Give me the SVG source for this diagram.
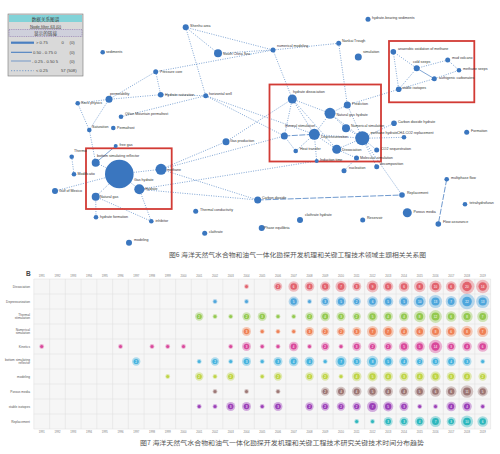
<svg xmlns="http://www.w3.org/2000/svg" xmlns:xlink="http://www.w3.org/1999/xlink" width="500" height="454" viewBox="0 0 500 454">
<style>
text{font-family:"Liberation Sans",Arial,sans-serif}
.lb{font-size:3.6px;fill:#333}
.nd{fill:#3a76bf}
.e{stroke:#4a7fc1;stroke-width:.7;stroke-dasharray:1 1.4;fill:none}
.es{stroke:#4a7fc1;stroke-width:.7;fill:none}
.ed{stroke:#4a7fc1;stroke-width:.8;stroke-dasharray:6 1.5;fill:none}
.box{fill:none;stroke:#d23b35;stroke-width:1.8}
.cap{font-family:"Noto Sans CJK SC",sans-serif;font-size:6px;fill:#555}
.lg{font-size:4.2px;fill:#444}
.rl{font-size:3.2px;fill:#555;text-anchor:end}
.yr{font-size:2.7px;fill:#777;text-anchor:middle}
.n{font-size:3px;fill:#fff;text-anchor:middle}
.g{stroke:#dedede;stroke-width:.5}
.k0{color:#e2636e}.k1{color:#4fa6dc}.k2{color:#94c94f}.k3{color:#ef8156}.k4{color:#d9489b}
.k5{color:#47b3de}.k6{color:#bfd445}.k7{color:#9c7674}.k8{color:#9b3fb8}.k9{color:#2db7bd}
</style>
<defs>
<g id="s1"><circle r="2.4" fill="currentColor" fill-opacity=".4"/><circle r="1.5" fill="currentColor"/></g>
<g id="s2"><circle r="4.2" fill="currentColor" fill-opacity=".4"/><circle r="2.6" fill="currentColor"/></g>
<g id="s3"><circle r="4.5" fill="currentColor" fill-opacity=".4"/><circle r="2.8" fill="currentColor"/></g>
<g id="s4"><circle r="4.8" fill="currentColor" fill-opacity=".4"/><circle r="3" fill="currentColor"/></g>
<g id="s5"><circle r="5.1" fill="currentColor" fill-opacity=".4"/><circle r="3.2" fill="currentColor"/></g>
<g id="s6"><circle r="5.3" fill="currentColor" fill-opacity=".4"/><circle r="3.3" fill="currentColor"/></g>
<g id="s7"><circle r="5.5" fill="currentColor" fill-opacity=".4"/><circle r="3.4" fill="currentColor"/></g>
<g id="s8"><circle r="5.7" fill="currentColor" fill-opacity=".4"/><circle r="3.5" fill="currentColor"/></g>
<g id="s9"><circle r="5.9" fill="currentColor" fill-opacity=".4"/><circle r="3.7" fill="currentColor"/></g>
<g id="s10"><circle r="6.1" fill="currentColor" fill-opacity=".4"/><circle r="3.8" fill="currentColor"/></g>
<g id="s11"><circle r="6.3" fill="currentColor" fill-opacity=".4"/><circle r="3.9" fill="currentColor"/></g>
<g id="s12"><circle r="6.4" fill="currentColor" fill-opacity=".4"/><circle r="4" fill="currentColor"/></g>
<g id="s13"><circle r="6.6" fill="currentColor" fill-opacity=".4"/><circle r="4.1" fill="currentColor"/></g>
<g id="s14"><circle r="6.7" fill="currentColor" fill-opacity=".4"/><circle r="4.2" fill="currentColor"/></g>
<g id="s20"><circle r="7.5" fill="currentColor" fill-opacity=".4"/><circle r="4.7" fill="currentColor"/></g>
<g id="s22"><circle r="7.8" fill="currentColor" fill-opacity=".4"/><circle r="4.8" fill="currentColor"/></g>
</defs>
<rect width="500" height="454" fill="#fff"/>

<!-- Legend -->
<g id="legend">
<rect x="8" y="14" width="75" height="62" fill="#d9d9d9" stroke="#777" stroke-width=".6"/>
<rect x="9" y="15" width="73" height="7" fill="#82d3d8"/>
<text x="45.5" y="20.8" class="lg" text-anchor="middle" style="font-family:'Noto Sans CJK SC',sans-serif;font-size:4.6px">数据关系图谱</text>
<text x="45.5" y="27.5" class="lg" text-anchor="middle" text-decoration="underline">Node filter 63 (0)</text>
<rect x="9" y="29.5" width="73" height="7" fill="#cfd0dc" stroke="#7b5fa3" stroke-width=".5" stroke-dasharray="1 .8"/>
<text x="45.5" y="34.9" class="lg" text-anchor="middle" style="font-family:'Noto Sans CJK SC',sans-serif;font-size:4.6px">显示的链接</text>
<line x1="11" y1="42.7" x2="34" y2="42.7" stroke="#4a7fc1" stroke-width="2.2"/>
<text x="36" y="44.2" class="lg">&gt; 0.75</text><text x="61.5" y="44.2" class="lg">0</text><text x="69.5" y="44.2" class="lg">(0)</text>
<line x1="11" y1="52.3" x2="32" y2="52.3" stroke="#4a7fc1" stroke-width="1.1"/>
<text x="33" y="53.8" class="lg">0.50 - 0.75 0</text><text x="69.5" y="53.8" class="lg">(0)</text>
<line x1="11" y1="61" x2="31" y2="61" stroke="#4a7fc1" stroke-width=".7"/>
<text x="32" y="62.5" class="lg">- 0.25 - 0.50 5</text><text x="69.5" y="62.5" class="lg">(0)</text>
<line x1="11" y1="70.7" x2="34" y2="70.7" stroke="#4a7fc1" stroke-width=".7" stroke-dasharray="1.2 1.6"/>
<text x="36" y="72.2" class="lg">&lt; 0.25</text><text x="61" y="72.2" class="lg">57 (508)</text>
</g>

<!-- Connectors -->
<g id="connectors">
<line class="e" x1="185.7" y1="27.3" x2="218" y2="53.3"/>
<line class="e" x1="185.7" y1="27.3" x2="273" y2="50"/>
<line class="e" x1="185.7" y1="27.3" x2="205.7" y2="95.7"/>
<line class="e" x1="218" y1="53.3" x2="273" y2="50"/>
<line class="e" x1="273" y1="50" x2="155.7" y2="71.7"/>
<line class="e" x1="273" y1="50" x2="338.7" y2="43.3"/>
<line class="e" x1="273" y1="50" x2="292.3" y2="99"/>
<line class="e" x1="155.7" y1="71.7" x2="109" y2="99.3"/>
<line class="e" x1="155.7" y1="71.7" x2="160.7" y2="94.7"/>
<line class="e" x1="109" y1="99.3" x2="160.7" y2="94.7"/>
<line class="e" x1="109" y1="99.3" x2="77.7" y2="103.3"/>
<line class="e" x1="109" y1="99.3" x2="89.3" y2="130"/>
<line class="e" x1="77.7" y1="103.3" x2="89.3" y2="130"/>
<line class="e" x1="89.3" y1="130" x2="95.7" y2="162.7"/>
<line class="e" x1="121" y1="116.7" x2="205.7" y2="95.7"/>
<line class="e" x1="160.7" y1="94.7" x2="205.7" y2="95.7"/>
<line class="e" x1="205.7" y1="95.7" x2="284.3" y2="136"/>
<line class="e" x1="205.7" y1="95.7" x2="314.3" y2="134.3"/>
<line class="es" x1="115.7" y1="146" x2="95.7" y2="162.7"/>
<line class="e" x1="71.7" y1="156.7" x2="74" y2="174.3"/>
<line class="e" x1="55" y1="191" x2="119.3" y2="174"/>
<line class="e" x1="119.3" y1="174" x2="95.7" y2="162.7"/>
<line class="e" x1="119.3" y1="174" x2="161" y2="169.3"/>
<line class="e" x1="119.3" y1="174" x2="139.3" y2="189.3"/>
<line class="e" x1="119.3" y1="174" x2="95.7" y2="196.7"/>
<line class="e" x1="95.7" y1="196.7" x2="96" y2="217.3"/>
<line class="e" x1="95.7" y1="196.7" x2="151.3" y2="221.3"/>
<line class="e" x1="139.3" y1="189.3" x2="151.3" y2="221.3"/>
<line class="e" x1="161" y1="169.3" x2="226" y2="141.7"/>
<line class="e" x1="226" y1="141.7" x2="292.3" y2="99"/>
<line class="e" x1="161" y1="169.3" x2="284.3" y2="136"/>
<line class="e" x1="139.3" y1="189.3" x2="316.7" y2="161"/>
<line class="e" x1="161" y1="169.3" x2="257.7" y2="200"/>
<line class="e" x1="139.3" y1="189.3" x2="257.7" y2="200"/>
<line class="ed" x1="257.7" y1="200" x2="402" y2="195"/>
<line class="e" x1="292.3" y1="99" x2="330" y2="113.3"/>
<line class="e" x1="292.3" y1="99" x2="284.3" y2="136"/>
<line class="e" x1="292.3" y1="99" x2="314.3" y2="134.3"/>
<line class="e" x1="292.3" y1="99" x2="336.7" y2="149.3"/>
<line class="e" x1="330" y1="113.3" x2="347.3" y2="105"/>
<line class="e" x1="330" y1="113.3" x2="314.3" y2="134.3"/>
<line class="e" x1="330" y1="113.3" x2="362.3" y2="138.3"/>
<line class="e" x1="330" y1="113.3" x2="346" y2="128.3"/>
<line class="ed" x1="284.3" y1="136" x2="314.3" y2="134.3"/>
<line class="e" x1="314.3" y1="134.3" x2="336.7" y2="149.3"/>
<line class="e" x1="314.3" y1="134.3" x2="362.3" y2="138.3"/>
<line class="e" x1="314.3" y1="134.3" x2="295.7" y2="151"/>
<line class="e" x1="284.3" y1="136" x2="295.7" y2="151"/>
<line class="e" x1="314.3" y1="134.3" x2="316.7" y2="161"/>
<line class="e" x1="336.7" y1="149.3" x2="362.3" y2="138.3"/>
<line class="e" x1="336.7" y1="149.3" x2="356.5" y2="158"/>
<line class="e" x1="362.3" y1="138.3" x2="376.7" y2="150"/>
<line class="e" x1="362.3" y1="138.3" x2="394" y2="123.3"/>
<line class="e" x1="362.3" y1="138.3" x2="404" y2="137.3"/>
<line class="e" x1="362.3" y1="138.3" x2="402" y2="195"/>
<line class="e" x1="362.3" y1="138.3" x2="376.7" y2="166.7"/>
<line class="e" x1="356.5" y1="158" x2="344" y2="170.7"/>
<line class="e" x1="346" y1="128.3" x2="362.3" y2="138.3"/>
<line class="e" x1="347.3" y1="105" x2="362.3" y2="138.3"/>
<line class="e" x1="338.7" y1="43.3" x2="347.3" y2="105"/>
<line class="e" x1="347.3" y1="105" x2="398.7" y2="89.3"/>
<line class="e" x1="393.3" y1="51.7" x2="416.7" y2="68.3"/>
<line class="e" x1="393.3" y1="51.7" x2="398.7" y2="89.3"/>
<line class="e" x1="416.7" y1="68.3" x2="447.7" y2="60"/>
<line class="es" x1="416.7" y1="68.3" x2="434.3" y2="78.7"/>
<line class="e" x1="416.7" y1="68.3" x2="398.7" y2="89.3"/>
<line class="e" x1="434.3" y1="78.7" x2="459" y2="70.3"/>
<line class="e" x1="434.3" y1="78.7" x2="398.7" y2="89.3"/>
<line class="e" x1="447.7" y1="60" x2="459" y2="70.3"/>
<line class="ed" x1="446.7" y1="179.3" x2="438.3" y2="224"/>
</g>

<!-- Highlight boxes -->
<rect class="box" x="86" y="148.3" width="85.7" height="60.7"/>
<rect class="box" x="269.5" y="84.5" width="111.5" height="77"/>
<rect class="box" x="389" y="41" width="85.3" height="61.3"/>

<!-- Nodes -->
<g id="n-sediments"><circle class="nd" cx="102.7" cy="52.3" r="2.3"/><text class="lb" x="106" y="53.3">sediments</text></g>
<g id="n-shenhu"><circle class="nd" cx="185.7" cy="27.3" r="3"/><text class="lb" x="190" y="26.5">Shenhu area</text></g>
<g id="n-scs"><circle class="nd" cx="218" cy="53.3" r="4"/><text class="lb" x="223" y="54.5">South China Sea</text></g>
<g id="n-nummod"><circle class="nd" cx="273" cy="50" r="2.5"/><text class="lb" x="277" y="46.5">numerical modeling</text></g>
<g id="n-pcore"><circle class="nd" cx="155.7" cy="71.7" r="2.5"/><text class="lb" x="160" y="72.7">Pressure core</text></g>
<g id="n-hsat"><circle class="nd" cx="160.7" cy="94.7" r="2.8"/><text class="lb" x="165" y="95.7">Hydrate saturation</text></g>
<g id="n-hwell"><circle class="nd" cx="205.7" cy="95.7" r="2.5"/><text class="lb" x="209" y="94.5">horizontal well</text></g>
<g id="n-perm"><circle class="nd" cx="109" cy="99.3" r="3.5"/><text class="lb" x="110" y="95">permeability</text></g>
<g id="n-rock"><circle class="nd" cx="77.7" cy="103.3" r="2.3"/><text class="lb" x="81" y="104.3">Rock physics</text></g>
<g id="n-qilian"><circle class="nd" cx="121" cy="116.7" r="2.3"/><text class="lb" x="125" y="114.5">Qilian Mountain permafrost</text></g>
<g id="n-sat"><circle class="nd" cx="89.3" cy="130" r="2.3"/><text class="lb" x="92" y="127.5">Saturation</text></g>
<g id="n-permafrost"><circle class="nd" cx="113.3" cy="128" r="2.3"/><text class="lb" x="117" y="129">Permafrost</text></g>
<g id="n-freegas"><circle class="nd" cx="115.7" cy="146" r="2"/><text class="lb" x="119.5" y="145.5">free gas</text></g>
<g id="n-thermo"><circle class="nd" cx="71.7" cy="156.7" r="2.3"/><text class="lb" x="74" y="152">Thermo</text></g>
<g id="n-modif"><circle class="nd" cx="74" cy="174.3" r="2.3"/><text class="lb" x="77.5" y="175.3">Modificatio</text></g>
<g id="n-gulf"><circle class="nd" cx="55" cy="191" r="3"/><text class="lb" x="59" y="192">Gulf of Mexico</text></g>
<g id="n-bsr"><circle class="nd" cx="95.7" cy="162.7" r="4"/><text class="lb" x="97" y="157">bottom simulating reflector</text></g>
<g id="n-gashydrate"><circle class="nd" cx="119.3" cy="174" r="14.3"/><text class="lb" x="134" y="180.5">Gas hydrate</text></g>
<g id="n-methane"><circle class="nd" cx="161" cy="169.3" r="5.5"/><text class="lb" x="167" y="170.5">methane</text></g>
<g id="n-hydrate"><circle class="nd" cx="139.3" cy="189.3" r="5"/><text class="lb" x="145" y="189.5">Hydrate</text></g>
<g id="n-natgas"><circle class="nd" cx="95.7" cy="196.7" r="4"/><text class="lb" x="100" y="198">Natural gas</text></g>
<g id="n-hform"><circle class="nd" cx="96" cy="217.3" r="2.3"/><text class="lb" x="100" y="218.3">hydrate formation</text></g>
<g id="n-inhib"><circle class="nd" cx="151.3" cy="221.3" r="2.3"/><text class="lb" x="155.5" y="221.8">inhibitor</text></g>
<g id="n-modeling"><circle class="nd" cx="129" cy="242.7" r="3"/><text class="lb" x="134" y="240.5">modeling</text></g>
<g id="n-gasprod"><circle class="nd" cx="226" cy="141.7" r="3.5"/><text class="lb" x="230" y="141.5">Gas production</text></g>
<g id="n-co2"><circle class="nd" cx="257.7" cy="200" r="3.5"/><text class="lb" x="262" y="198.5">Carbon dioxide</text></g>
<g id="n-thcond"><circle class="nd" cx="195.7" cy="211.3" r="2.5"/><text class="lb" x="200" y="210.5">Thermal conductivity</text></g>
<g id="n-clath"><circle class="nd" cx="204.7" cy="233.3" r="2.5"/><text class="lb" x="209" y="233">clathrate</text></g>
<g id="n-phase"><circle class="nd" cx="261.7" cy="228" r="3"/><text class="lb" x="264" y="228.5">Phase equilibria</text></g>
<g id="n-clathhyd"><circle class="nd" cx="300" cy="220" r="3"/><text class="lb" x="305" y="215.5">clathrate hydrate</text></g>
<g id="n-thstim"><circle class="nd" cx="284.3" cy="136" r="3.5"/><text class="lb" x="285" y="126.5">thermal stimulation</text></g>
<g id="n-depress"><circle class="nd" cx="314.3" cy="134.3" r="5.5"/><text class="lb" x="321" y="137.5">Depressurization</text></g>
<g id="n-hdiss"><circle class="nd" cx="292.3" cy="99" r="4.5"/><text class="lb" x="293" y="93">hydrate dissociation</text></g>
<g id="n-pred"><circle class="nd" cx="347.3" cy="105" r="3.5"/><text class="lb" x="352" y="104.5">Prediction</text></g>
<g id="n-ngh"><circle class="nd" cx="330" cy="113.3" r="5.5"/><text class="lb" x="336.5" y="115.5">Natural gas hydrate</text></g>
<g id="n-numsim"><circle class="nd" cx="346" cy="128.3" r="4"/><text class="lb" x="351" y="126.5">Numerical simulation</text></g>
<g id="n-mh"><circle class="nd" cx="362.3" cy="138.3" r="7"/><text class="lb" x="370.5" y="134">methane hydrate</text></g>
<g id="n-dissoc"><circle class="nd" cx="336.7" cy="149.3" r="4.5"/><text class="lb" x="342" y="151">Dissociation</text></g>
<g id="n-heat"><circle class="nd" cx="295.7" cy="151" r="2.3"/><text class="lb" x="300" y="150">Heat transfer</text></g>
<g id="n-induct"><circle class="nd" cx="316.7" cy="161" r="2"/><text class="lb" x="320" y="161">Induction time</text></g>
<g id="n-molsim"><circle class="nd" cx="356.5" cy="158" r="2.5"/><text class="lb" x="360" y="159">Molecular simulation</text></g>
<g id="n-nucl"><circle class="nd" cx="344" cy="170.7" r="2.5"/><text class="lb" x="349" y="168.5">nucleation</text></g>
<g id="n-decomp"><circle class="nd" cx="376.7" cy="166.7" r="2.5"/><text class="lb" x="380" y="165">decomposition</text></g>
<g id="n-co2seq"><circle class="nd" cx="376.7" cy="150" r="2.5"/><text class="lb" x="381" y="149.5">CO2 sequestration</text></g>
<g id="n-ch4co2"><circle class="nd" cx="404" cy="137.3" r="2.3"/><text class="lb" x="397" y="133.5">CH4-CO2 replacement</text></g>
<g id="n-cdh"><circle class="nd" cx="394" cy="123.3" r="2.8"/><text class="lb" x="398" y="123">Carbon dioxide hydrate</text></g>
<g id="n-formation"><circle class="nd" cx="466.7" cy="132.3" r="2.5"/><text class="lb" x="471" y="131.5">Formation</text></g>
<g id="n-multi"><circle class="nd" cx="446.7" cy="179.3" r="2.3"/><text class="lb" x="451" y="178.5">multiphase flow</text></g>
<g id="n-thf"><circle class="nd" cx="465" cy="204.3" r="2.3"/><text class="lb" x="469.5" y="203.5">tetrahydrofuran</text></g>
<g id="n-repl"><circle class="nd" cx="402" cy="195" r="2.8"/><text class="lb" x="407" y="194">Replacement</text></g>
<g id="n-porous"><circle class="nd" cx="407.3" cy="212.7" r="4.5"/><text class="lb" x="413.5" y="212.5">Porous media</text></g>
<g id="n-reservoir"><circle class="nd" cx="362.7" cy="220" r="2.5"/><text class="lb" x="367" y="219">Reservoir</text></g>
<g id="n-flowass"><circle class="nd" cx="438.3" cy="224" r="2.8"/><text class="lb" x="443" y="222.5">Flow assurance</text></g>
<g id="n-hbs"><circle class="nd" cx="368" cy="19.3" r="2.5"/><text class="lb" x="372" y="18.5">hydrate-bearing sediments</text></g>
<g id="n-nankai"><circle class="nd" cx="338.7" cy="43.3" r="2.5"/><text class="lb" x="342" y="42.3">Nankai Trough</text></g>
<g id="n-simulation"><circle class="nd" cx="358.3" cy="57" r="3.5"/><text class="lb" x="363" y="52.5">simulation</text></g>
<g id="n-aom"><circle class="nd" cx="393.3" cy="51.7" r="2.8"/><text class="lb" x="398" y="50.3">anaerobic oxidation of methane</text></g>
<g id="n-cold"><circle class="nd" cx="416.7" cy="68.3" r="3"/><text class="lb" x="413" y="63">cold seeps</text></g>
<g id="n-mud"><circle class="nd" cx="447.7" cy="60" r="2.5"/><text class="lb" x="452" y="59">mud volcano</text></g>
<g id="n-mseeps"><circle class="nd" cx="459" cy="70.3" r="2.3"/><text class="lb" x="463" y="70.3">methane seeps</text></g>
<g id="n-authig"><circle class="nd" cx="434.3" cy="78.7" r="2.5"/><text class="lb" x="439" y="79.3">authigenic carbonates</text></g>
<g id="n-stable"><circle class="nd" cx="398.7" cy="89.3" r="2.8"/><text class="lb" x="402" y="88.5">stable isotopes</text></g>

<text class="cap" x="169" y="256.5" textLength="257" lengthAdjust="spacingAndGlyphs">图6  海洋天然气水合物和油气一体化勘探开发机理和关键工程技术领域主题相关关系图</text>

<!-- Chart B -->
<g id="chart">
<rect x="33.8" y="279" width="456.8" height="150" fill="#f6f6f6"/>
<g class="g">
<line x1="33.8" y1="279" x2="33.8" y2="429"/><line x1="49.6" y1="279" x2="49.6" y2="429"/><line x1="65.3" y1="279" x2="65.3" y2="429"/><line x1="81.1" y1="279" x2="81.1" y2="429"/><line x1="96.8" y1="279" x2="96.8" y2="429"/><line x1="112.6" y1="279" x2="112.6" y2="429"/><line x1="128.3" y1="279" x2="128.3" y2="429"/><line x1="144.1" y1="279" x2="144.1" y2="429"/><line x1="159.8" y1="279" x2="159.8" y2="429"/><line x1="175.6" y1="279" x2="175.6" y2="429"/><line x1="191.3" y1="279" x2="191.3" y2="429"/><line x1="207.1" y1="279" x2="207.1" y2="429"/><line x1="222.8" y1="279" x2="222.8" y2="429"/><line x1="238.6" y1="279" x2="238.6" y2="429"/><line x1="254.3" y1="279" x2="254.3" y2="429"/><line x1="270.1" y1="279" x2="270.1" y2="429"/><line x1="285.8" y1="279" x2="285.8" y2="429"/><line x1="301.6" y1="279" x2="301.6" y2="429"/><line x1="317.3" y1="279" x2="317.3" y2="429"/><line x1="333.1" y1="279" x2="333.1" y2="429"/><line x1="348.8" y1="279" x2="348.8" y2="429"/><line x1="364.6" y1="279" x2="364.6" y2="429"/><line x1="380.3" y1="279" x2="380.3" y2="429"/><line x1="396.1" y1="279" x2="396.1" y2="429"/><line x1="411.8" y1="279" x2="411.8" y2="429"/><line x1="427.6" y1="279" x2="427.6" y2="429"/><line x1="443.3" y1="279" x2="443.3" y2="429"/><line x1="459.1" y1="279" x2="459.1" y2="429"/><line x1="474.8" y1="279" x2="474.8" y2="429"/><line x1="490.6" y1="279" x2="490.6" y2="429"/>
<line x1="33.8" y1="279" x2="490.6" y2="279"/><line x1="33.8" y1="294" x2="490.6" y2="294"/><line x1="33.8" y1="309" x2="490.6" y2="309"/><line x1="33.8" y1="324" x2="490.6" y2="324"/><line x1="33.8" y1="339" x2="490.6" y2="339"/><line x1="33.8" y1="354" x2="490.6" y2="354"/><line x1="33.8" y1="369" x2="490.6" y2="369"/><line x1="33.8" y1="384" x2="490.6" y2="384"/><line x1="33.8" y1="399" x2="490.6" y2="399"/><line x1="33.8" y1="414" x2="490.6" y2="414"/><line x1="33.8" y1="429" x2="490.6" y2="429"/>
</g>
<text x="26" y="276" style="font-size:6.5px;font-weight:bold;fill:#444">B</text>
<g class="yr">
<text x="41.7" y="277">1991</text><text x="57.5" y="277">1992</text><text x="73.2" y="277">1993</text><text x="89" y="277">1994</text><text x="104.7" y="277">1995</text><text x="120.5" y="277">1996</text><text x="136.2" y="277">1997</text><text x="152" y="277">1998</text><text x="167.7" y="277">1999</text><text x="183.5" y="277">2000</text><text x="199.2" y="277">2001</text><text x="215" y="277">2002</text><text x="230.7" y="277">2003</text><text x="246.5" y="277">2004</text><text x="262.2" y="277">2005</text><text x="278" y="277">2006</text><text x="293.7" y="277">2007</text><text x="309.5" y="277">2008</text><text x="325.2" y="277">2009</text><text x="341" y="277">2010</text><text x="356.7" y="277">2011</text><text x="372.5" y="277">2012</text><text x="388.2" y="277">2013</text><text x="404" y="277">2014</text><text x="419.7" y="277">2015</text><text x="435.5" y="277">2016</text><text x="451.2" y="277">2017</text><text x="467" y="277">2018</text><text x="482.7" y="277">2019</text>
<text x="41.7" y="432.5">1991</text><text x="57.5" y="432.5">1992</text><text x="73.2" y="432.5">1993</text><text x="89" y="432.5">1994</text><text x="104.7" y="432.5">1995</text><text x="120.5" y="432.5">1996</text><text x="136.2" y="432.5">1997</text><text x="152" y="432.5">1998</text><text x="167.7" y="432.5">1999</text><text x="183.5" y="432.5">2000</text><text x="199.2" y="432.5">2001</text><text x="215" y="432.5">2002</text><text x="230.7" y="432.5">2003</text><text x="246.5" y="432.5">2004</text><text x="262.2" y="432.5">2005</text><text x="278" y="432.5">2006</text><text x="293.7" y="432.5">2007</text><text x="309.5" y="432.5">2008</text><text x="325.2" y="432.5">2009</text><text x="341" y="432.5">2010</text><text x="356.7" y="432.5">2011</text><text x="372.5" y="432.5">2012</text><text x="388.2" y="432.5">2013</text><text x="404" y="432.5">2014</text><text x="419.7" y="432.5">2015</text><text x="435.5" y="432.5">2016</text><text x="451.2" y="432.5">2017</text><text x="467" y="432.5">2018</text><text x="482.7" y="432.5">2019</text>
</g>
<g class="rl">
<text x="30" y="287.5">Dissociation</text>
<text x="30" y="302.5">Depressurization</text>
<text x="30" y="315.5">Thermal</text><text x="30" y="319">stimulation</text>
<text x="30" y="330.5">Numerical</text><text x="30" y="334">simulation</text>
<text x="30" y="347.5">Kinetics</text>
<text x="30" y="360.5">bottom simulating</text><text x="30" y="364">reflector</text>
<text x="30" y="377.5">modeling</text>
<text x="30" y="392.5">Porous media</text>
<text x="30" y="407.5">stable isotopes</text>
<text x="30" y="422.5">Replacement</text>
</g>

<!-- Dissociation -->
<g class="k0">
<use href="#s1" x="246.5" y="286.5"/><use href="#s2" x="278" y="286.5"/><use href="#s6" x="293.7" y="286.5"/><use href="#s4" x="309.5" y="286.5"/><use href="#s5" x="325.2" y="286.5"/><use href="#s7" x="341" y="286.5"/><use href="#s3" x="356.7" y="286.5"/><use href="#s9" x="372.5" y="286.5"/><use href="#s5" x="388.2" y="286.5"/><use href="#s6" x="404" y="286.5"/><use href="#s8" x="419.7" y="286.5"/><use href="#s10" x="435.5" y="286.5"/><use href="#s6" x="451.2" y="286.5"/><use href="#s20" x="467" y="286.5"/><use href="#s14" x="482.7" y="286.5"/>
</g>
<!-- Depressurization -->
<g class="k1">
<use href="#s1" x="215" y="301.5"/><use href="#s1" x="246.5" y="301.5"/><use href="#s5" x="293.7" y="301.5"/><use href="#s1" x="309.5" y="301.5"/><use href="#s3" x="325.2" y="301.5"/><use href="#s5" x="341" y="301.5"/><use href="#s2" x="356.7" y="301.5"/><use href="#s6" x="372.5" y="301.5"/><use href="#s5" x="388.2" y="301.5"/><use href="#s5" x="404" y="301.5"/><use href="#s10" x="419.7" y="301.5"/><use href="#s13" x="435.5" y="301.5"/><use href="#s7" x="451.2" y="301.5"/><use href="#s22" x="467" y="301.5"/><use href="#s13" x="482.7" y="301.5"/>
</g>
<!-- Thermal stimulation -->
<g class="k2">
<use href="#s2" x="199.2" y="316.5"/><use href="#s1" x="215" y="316.5"/><use href="#s1" x="230.7" y="316.5"/><use href="#s2" x="246.5" y="316.5"/><use href="#s3" x="262.2" y="316.5"/><use href="#s1" x="278" y="316.5"/><use href="#s1" x="293.7" y="316.5"/><use href="#s2" x="309.5" y="316.5"/><use href="#s4" x="325.2" y="316.5"/><use href="#s3" x="341" y="316.5"/><use href="#s2" x="356.7" y="316.5"/><use href="#s5" x="372.5" y="316.5"/><use href="#s4" x="388.2" y="316.5"/><use href="#s4" x="404" y="316.5"/><use href="#s8" x="419.7" y="316.5"/><use href="#s12" x="435.5" y="316.5"/><use href="#s6" x="451.2" y="316.5"/><use href="#s8" x="467" y="316.5"/><use href="#s7" x="482.7" y="316.5"/>
</g>
<!-- Numerical simulation -->
<g class="k3">
<use href="#s3" x="246.5" y="331.5"/><use href="#s1" x="262.2" y="331.5"/><use href="#s1" x="278" y="331.5"/><use href="#s1" x="293.7" y="331.5"/><use href="#s3" x="309.5" y="331.5"/><use href="#s2" x="325.2" y="331.5"/><use href="#s2" x="341" y="331.5"/><use href="#s3" x="356.7" y="331.5"/><use href="#s7" x="372.5" y="331.5"/><use href="#s7" x="388.2" y="331.5"/><use href="#s4" x="404" y="331.5"/><use href="#s6" x="419.7" y="331.5"/><use href="#s8" x="435.5" y="331.5"/><use href="#s6" x="451.2" y="331.5"/><use href="#s8" x="467" y="331.5"/><use href="#s7" x="482.7" y="331.5"/>
</g>
<!-- Kinetics -->
<g class="k4">
<use href="#s1" x="41.7" y="346.5"/><use href="#s1" x="120.5" y="346.5"/><use href="#s1" x="152" y="346.5"/><use href="#s1" x="167.7" y="346.5"/><use href="#s1" x="183.5" y="346.5"/><use href="#s1" x="230.7" y="346.5"/><use href="#s3" x="246.5" y="346.5"/><use href="#s1" x="262.2" y="346.5"/><use href="#s1" x="278" y="346.5"/><use href="#s4" x="293.7" y="346.5"/><use href="#s1" x="309.5" y="346.5"/><use href="#s2" x="325.2" y="346.5"/><use href="#s1" x="341" y="346.5"/><use href="#s3" x="356.7" y="346.5"/><use href="#s2" x="372.5" y="346.5"/><use href="#s2" x="388.2" y="346.5"/><use href="#s5" x="404" y="346.5"/><use href="#s5" x="419.7" y="346.5"/><use href="#s14" x="435.5" y="346.5"/><use href="#s3" x="451.2" y="346.5"/><use href="#s4" x="467" y="346.5"/><use href="#s6" x="482.7" y="346.5"/>
</g>
<!-- bottom simulating reflector -->
<g class="k5">
<use href="#s2" x="136.2" y="361.5"/><use href="#s1" x="199.2" y="361.5"/><use href="#s2" x="215" y="361.5"/><use href="#s1" x="230.7" y="361.5"/><use href="#s3" x="246.5" y="361.5"/><use href="#s1" x="262.2" y="361.5"/><use href="#s3" x="278" y="361.5"/><use href="#s4" x="293.7" y="361.5"/><use href="#s4" x="309.5" y="361.5"/><use href="#s1" x="325.2" y="361.5"/><use href="#s7" x="341" y="361.5"/><use href="#s3" x="356.7" y="361.5"/><use href="#s8" x="372.5" y="361.5"/><use href="#s5" x="388.2" y="361.5"/><use href="#s4" x="404" y="361.5"/><use href="#s2" x="419.7" y="361.5"/><use href="#s3" x="435.5" y="361.5"/><use href="#s4" x="451.2" y="361.5"/><use href="#s3" x="467" y="361.5"/><use href="#s1" x="482.7" y="361.5"/>
</g>
<!-- modeling -->
<g class="k6">
<use href="#s1" x="167.7" y="376.5"/><use href="#s2" x="199.2" y="376.5"/><use href="#s1" x="215" y="376.5"/><use href="#s2" x="230.7" y="376.5"/><use href="#s1" x="262.2" y="376.5"/><use href="#s2" x="278" y="376.5"/><use href="#s2" x="309.5" y="376.5"/><use href="#s2" x="325.2" y="376.5"/><use href="#s1" x="341" y="376.5"/><use href="#s4" x="356.7" y="376.5"/><use href="#s5" x="372.5" y="376.5"/><use href="#s4" x="388.2" y="376.5"/><use href="#s3" x="404" y="376.5"/><use href="#s4" x="419.7" y="376.5"/><use href="#s5" x="435.5" y="376.5"/><use href="#s3" x="451.2" y="376.5"/><use href="#s4" x="467" y="376.5"/><use href="#s2" x="482.7" y="376.5"/>
</g>
<!-- Porous media -->
<g class="k7">
<use href="#s1" x="215" y="391.5"/><use href="#s1" x="246.5" y="391.5"/><use href="#s1" x="278" y="391.5"/><use href="#s2" x="325.2" y="391.5"/><use href="#s4" x="341" y="391.5"/><use href="#s4" x="356.7" y="391.5"/><use href="#s5" x="372.5" y="391.5"/><use href="#s4" x="388.2" y="391.5"/><use href="#s4" x="404" y="391.5"/><use href="#s5" x="419.7" y="391.5"/><use href="#s6" x="435.5" y="391.5"/><use href="#s6" x="451.2" y="391.5"/><use href="#s11" x="467" y="391.5"/><use href="#s5" x="482.7" y="391.5"/>
</g>
<!-- stable isotopes -->
<g class="k8">
<use href="#s1" x="199.2" y="406.5"/><use href="#s1" x="215" y="406.5"/><use href="#s3" x="230.7" y="406.5"/><use href="#s3" x="246.5" y="406.5"/><use href="#s1" x="262.2" y="406.5"/><use href="#s3" x="278" y="406.5"/><use href="#s2" x="309.5" y="406.5"/><use href="#s2" x="325.2" y="406.5"/><use href="#s2" x="341" y="406.5"/><use href="#s2" x="356.7" y="406.5"/><use href="#s7" x="372.5" y="406.5"/><use href="#s5" x="388.2" y="406.5"/><use href="#s3" x="404" y="406.5"/><use href="#s1" x="419.7" y="406.5"/><use href="#s1" x="435.5" y="406.5"/><use href="#s4" x="451.2" y="406.5"/><use href="#s4" x="467" y="406.5"/><use href="#s1" x="482.7" y="406.5"/>
</g>
<!-- Replacement -->
<g class="k9">
<use href="#s1" x="356.7" y="421.5"/><use href="#s1" x="372.5" y="421.5"/><use href="#s3" x="388.2" y="421.5"/><use href="#s3" x="404" y="421.5"/><use href="#s4" x="419.7" y="421.5"/><use href="#s7" x="435.5" y="421.5"/><use href="#s3" x="451.2" y="421.5"/><use href="#s10" x="467" y="421.5"/><use href="#s6" x="482.7" y="421.5"/>
</g>

<g class="n">
<text x="278" y="287.6">2</text><text x="293.7" y="287.6">6</text><text x="309.5" y="287.6">4</text><text x="325.2" y="287.6">5</text><text x="341" y="287.6">7</text><text x="356.7" y="287.6">3</text><text x="372.5" y="287.6">9</text><text x="388.2" y="287.6">5</text><text x="404" y="287.6">6</text><text x="419.7" y="287.6">8</text><text x="435.5" y="287.6">10</text><text x="451.2" y="287.6">6</text><text x="467" y="287.6">20</text><text x="482.7" y="287.6">14</text>
<text x="293.7" y="302.6">5</text><text x="325.2" y="302.6">3</text><text x="341" y="302.6">5</text><text x="356.7" y="302.6">2</text><text x="372.5" y="302.6">6</text><text x="388.2" y="302.6">5</text><text x="404" y="302.6">5</text><text x="419.7" y="302.6">10</text><text x="435.5" y="302.6">13</text><text x="451.2" y="302.6">7</text><text x="467" y="302.6">22</text><text x="482.7" y="302.6">13</text>
<text x="199.2" y="317.6">2</text><text x="246.5" y="317.6">2</text><text x="262.2" y="317.6">3</text><text x="309.5" y="317.6">2</text><text x="325.2" y="317.6">4</text><text x="341" y="317.6">3</text><text x="356.7" y="317.6">2</text><text x="372.5" y="317.6">5</text><text x="388.2" y="317.6">4</text><text x="404" y="317.6">4</text><text x="419.7" y="317.6">8</text><text x="435.5" y="317.6">12</text><text x="451.2" y="317.6">6</text><text x="467" y="317.6">8</text><text x="482.7" y="317.6">7</text>
<text x="246.5" y="332.6">3</text><text x="309.5" y="332.6">3</text><text x="325.2" y="332.6">2</text><text x="341" y="332.6">2</text><text x="356.7" y="332.6">3</text><text x="372.5" y="332.6">7</text><text x="388.2" y="332.6">7</text><text x="404" y="332.6">4</text><text x="419.7" y="332.6">6</text><text x="435.5" y="332.6">8</text><text x="451.2" y="332.6">6</text><text x="467" y="332.6">8</text><text x="482.7" y="332.6">7</text>
<text x="246.5" y="347.6">3</text><text x="293.7" y="347.6">4</text><text x="325.2" y="347.6">2</text><text x="356.7" y="347.6">3</text><text x="372.5" y="347.6">2</text><text x="388.2" y="347.6">2</text><text x="404" y="347.6">5</text><text x="419.7" y="347.6">5</text><text x="435.5" y="347.6">14</text><text x="451.2" y="347.6">3</text><text x="467" y="347.6">4</text><text x="482.7" y="347.6">6</text>
<text x="136.2" y="362.6">2</text><text x="215" y="362.6">2</text><text x="246.5" y="362.6">3</text><text x="278" y="362.6">3</text><text x="293.7" y="362.6">4</text><text x="309.5" y="362.6">4</text><text x="341" y="362.6">7</text><text x="356.7" y="362.6">3</text><text x="372.5" y="362.6">8</text><text x="388.2" y="362.6">5</text><text x="404" y="362.6">4</text><text x="419.7" y="362.6">2</text><text x="435.5" y="362.6">3</text><text x="451.2" y="362.6">4</text><text x="467" y="362.6">3</text>
<text x="199.2" y="377.6">2</text><text x="230.7" y="377.6">2</text><text x="278" y="377.6">2</text><text x="309.5" y="377.6">2</text><text x="325.2" y="377.6">2</text><text x="356.7" y="377.6">4</text><text x="372.5" y="377.6">5</text><text x="388.2" y="377.6">4</text><text x="404" y="377.6">3</text><text x="419.7" y="377.6">4</text><text x="435.5" y="377.6">5</text><text x="451.2" y="377.6">3</text><text x="467" y="377.6">4</text><text x="482.7" y="377.6">2</text>
<text x="325.2" y="392.6">2</text><text x="341" y="392.6">4</text><text x="356.7" y="392.6">4</text><text x="372.5" y="392.6">5</text><text x="388.2" y="392.6">4</text><text x="404" y="392.6">4</text><text x="419.7" y="392.6">5</text><text x="435.5" y="392.6">6</text><text x="451.2" y="392.6">6</text><text x="467" y="392.6">11</text><text x="482.7" y="392.6">5</text>
<text x="230.7" y="407.6">3</text><text x="246.5" y="407.6">3</text><text x="278" y="407.6">3</text><text x="309.5" y="407.6">2</text><text x="325.2" y="407.6">2</text><text x="341" y="407.6">2</text><text x="356.7" y="407.6">2</text><text x="372.5" y="407.6">7</text><text x="388.2" y="407.6">5</text><text x="404" y="407.6">3</text><text x="451.2" y="407.6">4</text><text x="467" y="407.6">4</text>
<text x="388.2" y="422.6">3</text><text x="404" y="422.6">3</text><text x="419.7" y="422.6">4</text><text x="435.5" y="422.6">7</text><text x="451.2" y="422.6">3</text><text x="467" y="422.6">10</text><text x="482.7" y="422.6">6</text>
</g>
</g>

<text class="cap" x="140" y="445" textLength="284" lengthAdjust="spacingAndGlyphs">图7  海洋天然气水合物和油气一体化勘探开发机理和关键工程技术研究关键技术时间分布趋势</text>
</svg>
